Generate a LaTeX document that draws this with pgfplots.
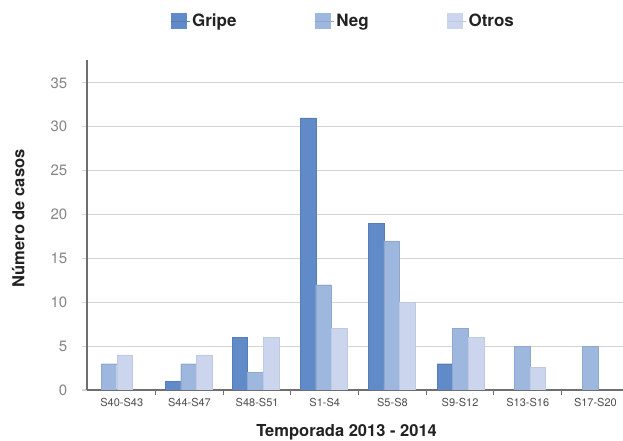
\documentclass[border=0pt]{standalone}
\usepackage{fontspec}
\setmainfont{TeX Gyre Heros}
\usepackage{pgfplots}
\pgfplotsset{compat=1.18}
\definecolor{gripe}{HTML}{608AC8}
\definecolor{neg}{HTML}{9EB7DE}
\definecolor{otros}{HTML}{CBD6EE}
\definecolor{gridgray}{HTML}{D4D4D4}
\definecolor{axisgray}{HTML}{6E6E6E}
\definecolor{labelgray}{HTML}{222222}
\begin{document}
\begin{tikzpicture}
\useasboundingbox (0,0) rectangle (623pt,441pt);
\begin{axis}[
  at={(87.3pt,51pt)}, anchor=south west,
  scale only axis, width=535.7pt, height=330pt,
  xmin=-0.51, xmax=7.408, ymin=0, ymax=37.6,
  ybar, bar shift=0pt, bar width=0.23,
  axis x line*=bottom, axis y line*=left,
  axis line style={axisgray, line width=1.8pt},
  ytick={0,5,...,35},
  ymajorgrids, grid style={gridgray, line width=1.1pt},
  tick align=outside, major tick length=5.5pt,
  ytick style={gridgray, line width=1.1pt},
  xtick={0.5,1.5,...,6.5}, xticklabels={},
  xtick style={axisgray, line width=1pt},
  extra x ticks={0,1,2,3,4,5,6,7},
  extra x tick labels={S40-S43,S44-S47,S48-S51,S1-S4,S5-S8,S9-S12,S13-S16,S17-S20},
  extra x tick style={grid=none, major tick length=0pt},
  /pgf/number format/assume math mode=true,
  x tick label style={font=\fontsize{11}{13}\selectfont, text=black!70, anchor=center, yshift=-12pt},
  y tick label style={font=\fontsize{15}{17}\selectfont, text=black!48, anchor=east, xshift=-11pt},
  xlabel={Temporada 2013 - 2014},
  ylabel={Número de casos},
  every axis x label/.style={at={(axis description cs:0.484,-0.127)}, anchor=center, font=\fontsize{16.5}{19}\selectfont\bfseries, text=labelgray},
  every axis y label/.style={at={(axis description cs:-0.129,0.52)}, anchor=center, rotate=90, font=\fontsize{16.5}{19}\selectfont\bfseries, text=labelgray},
  legend columns=3,
  legend style={at={(axis description cs:0.478,1.118)}, anchor=center, draw=none, fill=none,
    font=\fontsize{17}{19}\selectfont\bfseries, text=labelgray,
    /tikz/every even column/.append style={column sep=76.5pt}},
  legend image code/.code={\fill[#1, draw=none] (0pt,-8pt) rectangle (16pt,8pt); \path (0pt,0pt) -- (19pt,0pt);},
]
\addplot[fill=gripe, draw=gripe!90!black, line width=0.3pt] coordinates {
  (0.757,1) (1.744,6) (2.755,31) (3.760,19) (4.777,3)};
\addlegendentry{Gripe}
\addplot[fill=neg, draw=neg!92!black, line width=0.3pt] coordinates {
  (-0.19,3) (0.986,3) (1.973,2) (2.981,12) (3.989,17) (5.003,7) (5.918,5) (6.923,5)};
\addlegendentry{Neg}
\addplot[fill=otros, draw=otros!94!black, line width=0.3pt] coordinates {
  (0.045,4) (1.215,4) (2.205,6) (3.21,7) (4.218,10) (5.235,6) (6.146,2.6)};
\addlegendentry{Otros}
\end{axis}
\end{tikzpicture}
\end{document}
